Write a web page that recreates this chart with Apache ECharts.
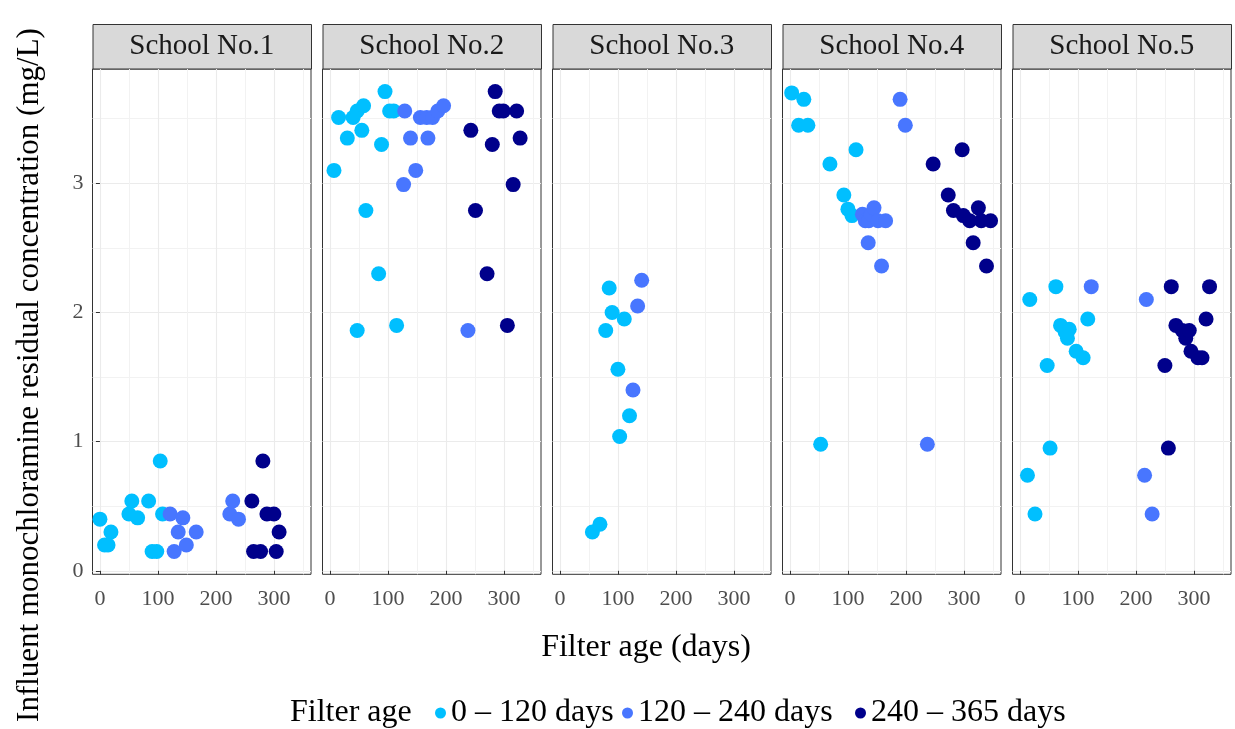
<!DOCTYPE html>
<html>
<head>
<meta charset="utf-8">
<script src="https://cdn.jsdelivr.net/npm/echarts@6/dist/echarts.min.js"></script>
<style>html,body{margin:0;padding:0;background:#fff;}#chart{width:1235px;height:729px;}</style>
</head>
<body>
<div id="chart"></div>
<script>
// ---- data (filter age in days, concentration mg/L) ----
const schools = ['School No.1', 'School No.2', 'School No.3', 'School No.4', 'School No.5'];
const groupNames = ['0 \u2013 120 days', '120 \u2013 240 days', '240 \u2013 365 days'];
const groupColors = ['#00BFFF', '#4876FF', '#00008B'];
const xTicks = [0, 100, 200, 300];
const yTicks = [0, 1, 2, 3];

const school1_a = [[0,0.40],[8,0.20],[14,0.20],[19,0.30],[50,0.44],[55,0.54],[65,0.41],[84,0.54],[90,0.15],[98,0.15],[104,0.85],[108,0.44]];
const school1_b = [[121,0.44],[128,0.15],[135,0.30],[143,0.41],[149,0.20],[166,0.30],[224,0.44],[229,0.54],[239,0.40]];
const school1_c = [[262,0.54],[265,0.15],[277,0.15],[281,0.85],[288,0.44],[300,0.44],[304,0.15],[309,0.30]];

const school2_a = [[7,3.10],[15,3.51],[30,3.35],[40,3.51],[47,3.56],[58,3.60],[55,3.41],[95,3.71],[103,3.56],[110,3.56],[89,3.30],[62,2.79],[84,2.30],[47,1.86],[115,1.90]];
const school2_b = [[127,2.99],[129,3.56],[139,3.35],[148,3.10],[156,3.51],[167,3.51],[169,3.35],[177,3.51],[186,3.56],[196,3.60],[238,1.86]];
const school2_c = [[243,3.41],[251,2.79],[271,2.30],[280,3.30],[285,3.71],[292,3.56],[299,3.56],[306,1.90],[316,2.99],[322,3.56],[328,3.35]];

const school3_a = [[56,0.30],[69,0.36],[79,1.86],[85,2.19],[90,2.00],[100,1.56],[103,1.04],[111,1.95],[120,1.20]];
const school3_b = [[126,1.40],[134,2.05],[141,2.25]];
const school3_c = [];

const school4_a = [[3,3.70],[15,3.45],[31,3.45],[24,3.65],[53,0.98],[69,3.15],[93,2.91],[100,2.80],[107,2.75],[114,3.26]];
const school4_b = [[125,2.76],[130,2.71],[136,2.71],[140,2.76],[145,2.81],[152,2.71],[165,2.71],[135,2.54],[158,2.36],[190,3.65],[199,3.45],[237,0.98]];
const school4_c = [[247,3.15],[273,2.91],[282,2.79],[297,3.26],[299,2.75],[310,2.71],[316,2.54],[325,2.81],[330,2.71],[339,2.36],[346,2.71]];

const school5_a = [[13,0.74],[17,2.10],[26,0.44],[47,1.59],[52,0.95],[62,2.20],[70,1.90],[78,1.85],[85,1.87],[82,1.80],[97,1.70],[109,1.65],[117,1.95]];
const school5_b = [[123,2.20],[215,0.74],[218,2.10],[228,0.44]];
const school5_c = [[250,1.59],[256,0.95],[261,2.20],[269,1.90],[280,1.86],[286,1.80],[292,1.86],[295,1.70],[307,1.65],[314,1.65],[321,1.95],[327,2.20]];

const schoolData = [
  [school1_a, school1_b, school1_c],
  [school2_a, school2_b, school2_c],
  [school3_a, school3_b, school3_c],
  [school4_a, school4_b, school4_c],
  [school5_a, school5_b, school5_c]
];

// ---- layout ----
const FONT = 'Liberation Serif';
const P_LEFT = 92.5, P_STEP = 230.0, P_W = 218.5, P_TOP = 69, P_H = 505.3;
const X_MIN = -12.8, X_MAX = 364, Y_MIN = -0.027, Y_MAX = 3.885;

const grids = [], xAxes = [], yAxes = [], series = [], graphics = [];
schools.forEach((name, i) => {
  const left = P_LEFT + P_STEP * i;
  grids.push({left: left, top: P_TOP, width: P_W, height: P_H, show: true,
    backgroundColor: '#fff', borderColor: '#333', borderWidth: 1, containLabel: false});
  xAxes.push({type: 'value', gridIndex: i, min: X_MIN, max: X_MAX, splitNumber: 4,
    axisLine: {show: false},
    axisTick: {show: true, length: 4, lineStyle: {color: '#333'}, customValues: xTicks},
    axisLabel: {show: true, customValues: xTicks, fontFamily: FONT, fontSize: 22, color: '#4d4d4d', margin: 14},
    splitLine: {show: true, lineStyle: {color: '#ebebeb', width: 1.1}},
    minorTick: {show: false, splitNumber: 2},
    minorSplitLine: {show: true, lineStyle: {color: '#f2f2f2', width: 1}}
  });
  yAxes.push({type: 'value', gridIndex: i, min: Y_MIN, max: Y_MAX, splitNumber: 4,
    axisLine: {show: false},
    axisTick: {show: i === 0, length: 4, lineStyle: {color: '#333'}, customValues: yTicks},
    axisLabel: {show: i === 0, customValues: yTicks, fontFamily: FONT, fontSize: 22, color: '#4d4d4d', margin: 9},
    splitLine: {show: true, lineStyle: {color: '#ebebeb', width: 1.1}},
    minorTick: {show: false, splitNumber: 2},
    minorSplitLine: {show: true, lineStyle: {color: '#f2f2f2', width: 1}}
  });
  schoolData[i].forEach((pts, g) => {
    series.push({type: 'scatter', name: groupNames[g], xAxisIndex: i, yAxisIndex: i,
      data: pts, symbol: 'circle', symbolSize: 15,
      itemStyle: {color: groupColors[g], opacity: 1}, emphasis: {disabled: true}});
  });
  graphics.push({type: 'rect', left: left, top: 24, shape: {width: P_W, height: 44.5},
    style: {fill: '#d9d9d9', stroke: '#333', lineWidth: 1}});
  graphics.push({type: 'text', x: left + P_W / 2, y: 46.5,
    style: {text: name, fontFamily: FONT, fontSize: 29, fill: '#1a1a1a', align: 'center', verticalAlign: 'middle'}});
});

graphics.push({type: 'text', x: 646, y: 648,
  style: {text: 'Filter age (days)', fontFamily: FONT, fontSize: 32, fill: '#000', align: 'center', verticalAlign: 'middle'}});
graphics.push({type: 'text', x: 30, y: 375, rotation: Math.PI / 2,
  style: {text: 'Influent monochloramine residual concentration (mg/L)', fontFamily: FONT, fontSize: 31, fill: '#000', align: 'center', verticalAlign: 'middle'}});
graphics.push({type: 'text', x: 290, y: 713,
  style: {text: 'Filter age', fontFamily: FONT, fontSize: 32, fill: '#000', align: 'left', verticalAlign: 'middle'}});

const legendLefts = [435, 622, 855];
const legends = groupNames.map((n, g) => ({
  data: [n], left: legendLefts[g], top: 697, padding: 0, itemWidth: 11, itemHeight: 11, icon: 'circle',
  selectedMode: false,
  textStyle: {fontFamily: FONT, fontSize: 32, color: '#000'}
}));

const chart = echarts.init(document.getElementById('chart'), null, {renderer: 'canvas'});
chart.setOption({
  animation: false,
  backgroundColor: '#fff',
  grid: grids, xAxis: xAxes, yAxis: yAxes, series: series,
  legend: legends,
  graphic: graphics
});
</script>
</body>
</html>
